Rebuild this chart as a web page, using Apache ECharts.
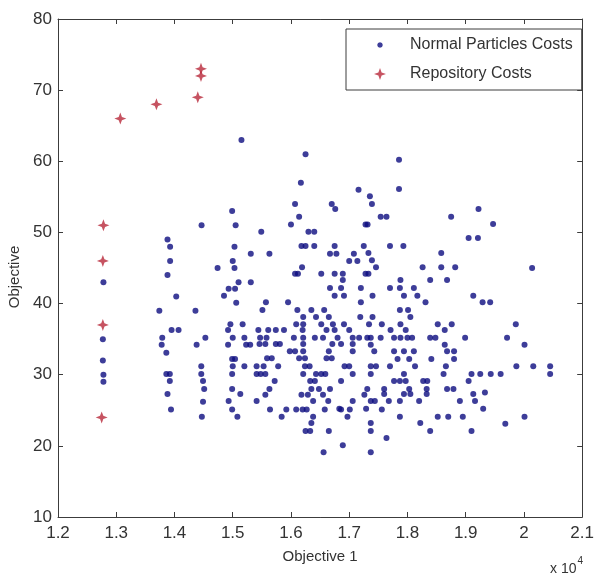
<!DOCTYPE html>
<html>
<head>
<meta charset="utf-8">
<script src="https://cdn.jsdelivr.net/npm/echarts@6/dist/echarts.min.js"></script>
<style>
html,body{margin:0;padding:0;background:#fff;}
#chart{width:597px;height:577px;}
</style>
</head>
<body>
<div id="chart"></div>
<script>
// x values are raw Objective 1 values (axis shows them x 10^4)
const xTickLabels = ['1.2','1.3','1.4','1.5','1.6','1.7','1.8','1.9','2','2.1'];
const yTickLabels = ['10','20','30','40','50','60','70','80'];

const repositoryCosts = [
  [12780,51],[12770,46],[12770,37],[12750,24],[13070,66],[13690,68],[14400,69],[14455,72],[14455,73]
];

const normalCol128 = [[12780,43],[12770,35],[12770,32],[12780,30],[12780,29]];

const normalLeftUpper = [
  [15150,63],[14990,53],[14465,51],[15050,51],[13880,49],[13925,48],[15030,48],[15310,47],[13925,46],
  [15000,46],[14740,45],[15030,45],[13880,44],[15100,43],[15310,43]
];

const normalLeftLower = [
  [14030,41],[13740,39],[14360,39],[13950,36.3],[14070,36.3],[13790,35.2],[14530,35.2],[13780,34.2],
  [14380,34.2],[13860,33.1],[13860,30.1],[13920,30.1],[13920,29.1],[13880,27.3],[13940,25.1],
  [14460,31.2],[14460,30.1],[14490,29.1],[14510,28],[14490,26.2],[14470,24.1],
  [14930,42.1],[15040,42.1],[14850,41.1],[15060,40.1],[14960,37.1],[15170,37.1],[14920,36.3],
  [15000,35.2],[15200,35.2],[14920,34.2],[15230,34.2],[15300,34.2],[14990,32.2],[15040,32.2],
  [15000,31.2],[15200,31.2],[14990,30.1],[14990,28],[15130,27.3],[14930,26.3],[14990,25.1],[15080,24.1]
];

const normalMidUpper = [
  [16250,61],[16170,57],[17160,56],[16070,54],[16700,54],[16760,53.3],[16140,52.2],[16000,51.1],
  [17280,51.1],[15490,50.1],[16300,50.1],[16400,50.1],[15630,47],[16180,48.1],[16250,48.1],[16400,48.1],
  [16750,48.1],[16670,47],[16780,47],[17250,48.1],[17080,47],[17000,46],[17140,46],[16190,45.1],
  [16070,44.2],[16120,44.2],[16520,44.2],[16750,44.2],[16890,44.2],[17280,44.2],[16890,43.3]
];

const normalRightUpper = [
  [17855,60.2],[17855,56.1],[17355,55.1],[17390,54],[17540,52.2],[17640,52.2],[17315,51.1],[19220,53.3],
  [18750,52.2],[19050,49.2],[19210,49.2],[17700,48.1],[17930,48.1],[18580,47.1],[17330,47.1],[17390,46.1],
  [17460,45.1],[18260,45.1],[18580,45.1],[18820,45.1],[17330,44.2],[17880,43.3],[18390,43.3],[18680,43.3],
  [19470,51.2],[20140,45]
];

const normalFarRight = [
  [19290,40.2],[19420,40.2],[19860,37.1],[19710,35.2],[20010,34.2],[19870,31.2],[20160,31.2],[20450,31.2],
  [20450,30.1],[19430,30.1],[19600,30.1],[19330,27.5],[19300,25.2],[20010,24.1],[19680,23.1]
];

const normalCenter = [
  [16670,42.2],[16860,42.2],[16750,41.1],[16910,41.1],[17200,42.2],[17200,40.2],[15570,40.2],[15950,40.2],
  [15510,39.1],[16110,39.1],[16350,39.1],[16570,39.1],[16210,38.1],[16430,38.1],[16650,38.1],[17190,38.1],
  [16090,37.1],[16210,37.1],[16520,37.1],[16720,37.1],[16910,37.1],
  [15440,36.3],[15610,36.3],[15740,36.3],[15880,36.3],[16200,36.3],[16610,36.3],[16750,36.3],[17000,36.3],
  [16050,35.2],[16210,35.2],[16410,35.2],[16550,35.2],[16800,35.2],[17060,35.2],[17170,35.2],[17310,35.2],
  [15470,35.2],[15580,35.2],
  [16210,34.3],[16710,34.3],[16860,34.3],[17060,34.3],[15460,34.3],[15560,34.3],[15740,34.3],[15810,34.3],
  [15980,33.3],[16070,33.3],[16210,33.3],[16650,33.3],[17060,33.3],
  [15590,32.3],[15670,32.3],[16140,32.3],[16240,32.3],[16610,32.3],[16700,32.3],
  [15410,31.2],[15530,31.2],[15780,31.2],[16240,31.2],[16320,31.2],[16920,31.2],[17000,31.2],
  [15410,30.1],[15480,30.1],[15560,30.1],[16210,30.1],[16430,30.1],[16520,30.1],[16590,30.1],[17060,30.1],
  [15720,29.1],[16330,29.1],[16410,29.1],[16860,29.1],
  [15630,28],[16350,28],[16480,28],[16670,28],
  [15560,27.2],[16180,27.2],[16290,27.2],[16550,27.2],[17260,27.2],
  [16380,26.3],[16640,26.3],[17060,26.3],[15410,26.3],
  [15640,25.1],[15920,25.1],[16090,25.1],[16200,25.1],[16270,25.1],[16580,25.1],[16860,25.1],[17010,25.1],
  [17290,25.2],[16830,25.2],
  [15840,24.1],[16380,24.1],[16970,24.1],
  [16350,23.2],
  [16250,22.1],[16330,22.1],[16650,22.1],
  [16890,20.1],[16560,19.1]
];

const normalCenterRight = [
  [17700,42.2],[17870,42.2],[18110,42.2],
  [17400,41.1],[17940,41.1],[18170,41.1],
  [18310,40.2],[19130,41.1],
  [17870,39.1],[18010,39.1],
  [18050,38.1],[17400,38.1],
  [17340,37.1],[17560,37.1],[17880,37.1],[18520,37.1],[18760,37.1],
  [17710,36.3],[17970,36.3],[18640,36.3],
  [17370,35.2],[17540,35.2],[17770,35.2],[17880,35.2],[18000,35.2],[18080,35.2],[18390,35.2],[18480,35.2],[18990,35.2],
  [17370,34.2],[18640,34.2],
  [17430,33.3],[17770,33.3],[17940,33.3],[18110,33.3],[18680,33.3],[18800,33.3],
  [17830,32.2],[18030,32.2],[18410,32.2],[18800,32.2],
  [17370,31.2],[17460,31.2],[17700,31.2],[18130,31.2],[18660,31.2],
  [17370,30.1],[17940,30.1],[18620,30.1],[19100,30.1],[19250,30.1],
  [17770,29.1],[17870,29.1],[17970,29.1],[18270,29.1],[18340,29.1],[19050,29.1],
  [17310,28],[17600,28],[18030,28],[18330,28],[18680,28],[18790,28],
  [17600,27.3],[17940,27.3],[18050,27.3],[18330,27.3],[19130,27.3],
  [17370,26.3],[17440,26.3],[17680,26.3],[17870,26.3],[18200,26.3],[18900,26.3],[19160,26.3],
  [17560,25.1],
  [17870,24.1],[18520,24.1],[18700,24.1],[18950,24.1],
  [18220,23.2],
  [17370,23.2],[17370,22.1],
  [18390,22.1],[19100,22.1],
  [17640,21.1],
  [17370,19.1]
];

const normalCosts = [].concat(normalCol128, normalLeftUpper, normalLeftLower, normalMidUpper,
  normalRightUpper, normalFarRight, normalCenter, normalCenterRight);

const FONT = '"Liberation Sans", Arial, sans-serif';
const TXT = '#333';
const LINE = '#3c3c3c';
const starPath = 'path://M7,0L8.9,5.1L14,7L8.9,8.9L7,14L5.1,8.9L0,7L5.1,5.1Z';
const legendStar = 'path://M7,1L8.6,5.4L13,7L8.6,8.6L7,13L5.4,8.6L1,7L5.4,5.4Z M0,0L0.001,0L0,0.001Z M14,14L13.999,14L14,13.999Z';
const dotLegend = 'path://M0,0L0.001,0L0,0.001ZM14,14L13.999,14L14,13.999ZM9.8,7L9,9L7,9.8L5,9L4.2,7L5,5L7,4.2L9,5Z';

const chart = echarts.init(document.getElementById('chart'), null, {renderer:'canvas'});
const xBase = {
  type:'value', min:12000, max:21000, interval:1000,
  axisLine:{show:true, onZero:false, lineStyle:{color:LINE, width:1}},
  axisTick:{show:true, inside:true, length:5, lineStyle:{color:LINE}},
  splitLine:{show:false}
};
const yBase = {
  type:'value', min:10, max:80, interval:10,
  axisLine:{show:true, onZero:false, lineStyle:{color:LINE, width:1}},
  axisTick:{show:true, inside:true, length:5, lineStyle:{color:LINE}},
  splitLine:{show:false}
};
chart.setOption({
  backgroundColor:'#fff',
  animation:false,
  grid:{left:58, top:19, right:10, bottom:60, containLabel:false},
  xAxis:[
    Object.assign({}, xBase, {position:'bottom',
      axisLabel:{show:true, margin:8, fontFamily:FONT, fontSize:17, color:TXT,
        formatter:(v)=>xTickLabels[Math.round((v-12000)/1000)]},
      name:'Objective 1', nameLocation:'middle', nameGap:32,
      nameTextStyle:{fontFamily:FONT, fontSize:15, color:TXT}}),
    Object.assign({}, xBase, {position:'top', axisLabel:{show:false}})
  ],
  yAxis:[
    Object.assign({}, yBase, {position:'left',
      axisLabel:{show:true, margin:6, fontFamily:FONT, fontSize:17, color:TXT,
        formatter:(v)=>yTickLabels[Math.round((v-10)/10)]}}),
    Object.assign({}, yBase, {position:'right', axisLabel:{show:false}})
  ],
  legend:{
    orient:'vertical', left:346, top:29,
    padding:[8,9,8,27], itemGap:13, itemWidth:50, itemHeight:14,
    backgroundColor:'#fff', borderColor:LINE, borderWidth:1, borderRadius:0,
    itemStyle:{borderWidth:0},
    textStyle:{fontFamily:FONT, fontSize:16, color:TXT},
    data:[{name:'Normal Particles Costs', icon:dotLegend},{name:'Repository Costs', icon:legendStar}]
  },
  graphic:[
    {type:'text', x:15, y:277, rotation:Math.PI/2,
      style:{text:'Objective', font:'15px '+FONT, fill:TXT, align:'center', verticalAlign:'middle'}},
    {type:'text', left:550, top:556,
      style:{text:'{a|x 10}{b|4}', fill:TXT,
        rich:{a:{fontFamily:FONT, fontSize:14, color:TXT, padding:[8,0,0,0]}, b:{fontFamily:FONT, fontSize:10, color:TXT, padding:[0,0,8,1]}}}}
  ],
  series:[
    {name:'Normal Particles Costs', type:'scatter', xAxisIndex:0, yAxisIndex:0,
      symbol:'circle', symbolSize:6, data:normalCosts,
      itemStyle:{color:'#0d0d80'}},
    {name:'Repository Costs', type:'scatter', xAxisIndex:0, yAxisIndex:0,
      symbol:starPath, symbolSize:12, data:repositoryCosts, z:3,
      itemStyle:{color:'#b8283a'}}
  ]
});
</script>
</body>
</html>
